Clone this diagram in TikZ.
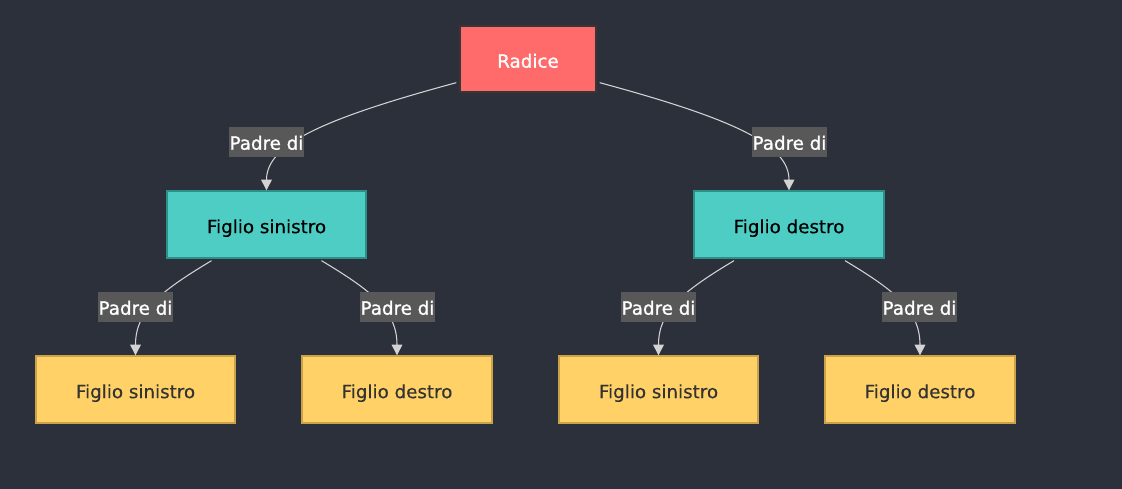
\documentclass[tikz,border=0pt]{standalone}
\usepackage{fontspec}
\setmainfont{DejaVu Sans}
\newfontfamily\heavyfont[FakeBold=1.2]{DejaVu Sans}
\newfontfamily\midfont[FakeBold=0.4]{DejaVu Sans}
\usetikzlibrary{arrows.meta,calc}
\definecolor{bgc}{HTML}{2B303B}
\definecolor{rootc}{HTML}{FF6B6B}
\definecolor{rootb}{HTML}{3A3434}
\definecolor{tealc}{HTML}{4ECDC4}
\definecolor{tealb}{HTML}{2E8F89}
\definecolor{yelc}{HTML}{FFD166}
\definecolor{yelb}{HTML}{C9A24A}
\definecolor{labc}{HTML}{585858}
\definecolor{edgec}{HTML}{D3D3D3}
\definecolor{darktxt}{HTML}{333333}
\tikzset{
  boxbase/.style={line width=1pt, inner sep=0pt, text height=13pt, text depth=0pt},
  rootbox/.style={boxbase, draw=rootb, fill=rootc, text=white, minimum width=102pt, minimum height=49.5pt, font=\heavyfont\fontsize{13.7}{16}\selectfont},
  tealbox/.style={boxbase, draw=tealb, fill=tealc, text=black, minimum height=50.25pt, font=\midfont\fontsize{13.7}{16}\selectfont},
  yelbox/.style={boxbase, draw=yelb, fill=yelc, text=darktxt, minimum height=50.25pt, font=\midfont\fontsize{13.7}{16}\selectfont},
  elabel/.style={fill=labc, text=white, minimum width=56.25pt, minimum height=22.5pt, inner sep=0pt, text height=11.5pt, text depth=0pt, font=\heavyfont\fontsize{13.7}{16}\selectfont},
  edgeline/.style={draw=edgec, line width=0.8pt, -{Triangle[length=8pt,width=8pt]}},
}
\begin{document}
\begin{tikzpicture}[x=0.75pt,y=-0.75pt]
\fill[bgc] (0,0) rectangle (1122,489);
\useasboundingbox (0,0) rectangle (1122,489);
% nodes
\node[rootbox] (root) at (528,59) {Radice};
\node[tealbox, minimum width=149.25pt] (c1) at (266.5,224.5) {Figlio sinistro};
\node[tealbox, minimum width=142.5pt] (c2) at (789,224.5) {Figlio destro};
\node[yelbox, minimum width=149.25pt] (g1) at (135.5,389.5) {Figlio sinistro};
\node[yelbox, minimum width=142.5pt] (g2) at (397,389.5) {Figlio destro};
\node[yelbox, minimum width=149.25pt] (g3) at (658.5,389.5) {Figlio sinistro};
\node[yelbox, minimum width=142.5pt] (g4) at (920,389.5) {Figlio destro};
% edges
\draw[edgeline] ($(root.south west)+(-3,-10)$) .. controls ($(root.south west)+(-140,27)$) and ($(c1.north)+(0,-45)$) .. (c1.north);
\draw[edgeline] ($(root.south east)+(3,-10)$) .. controls ($(root.south east)+(140,27)$) and ($(c2.north)+(0,-45)$) .. (c2.north);
\draw[edgeline] ($(c1.south)+(-55,2)$) .. controls ($(c1.south)+(-105,32)$) and ($(g1.north)+(0,-45)$) .. (g1.north);
\draw[edgeline] ($(c1.south)+(55,2)$) .. controls ($(c1.south)+(105,32)$) and ($(g2.north)+(0,-45)$) .. (g2.north);
\draw[edgeline] ($(c2.south)+(-55,2)$) .. controls ($(c2.south)+(-105,32)$) and ($(g3.north)+(0,-45)$) .. (g3.north);
\draw[edgeline] ($(c2.south)+(56,2)$) .. controls ($(c2.south)+(106,32)$) and ($(g4.north)+(0,-45)$) .. (g4.north);
% edge labels
\node[elabel] (l1) at (266.5,142) {Padre di};
\node[elabel] (l2) at (789.5,142) {Padre di};
\node[elabel] (l3) at (135.5,307) {Padre di};
\node[elabel] (l4) at (397.5,307) {Padre di};
\node[elabel] (l5) at (658.5,307) {Padre di};
\node[elabel] (l6) at (919.5,307) {Padre di};
\end{tikzpicture}
\end{document}
